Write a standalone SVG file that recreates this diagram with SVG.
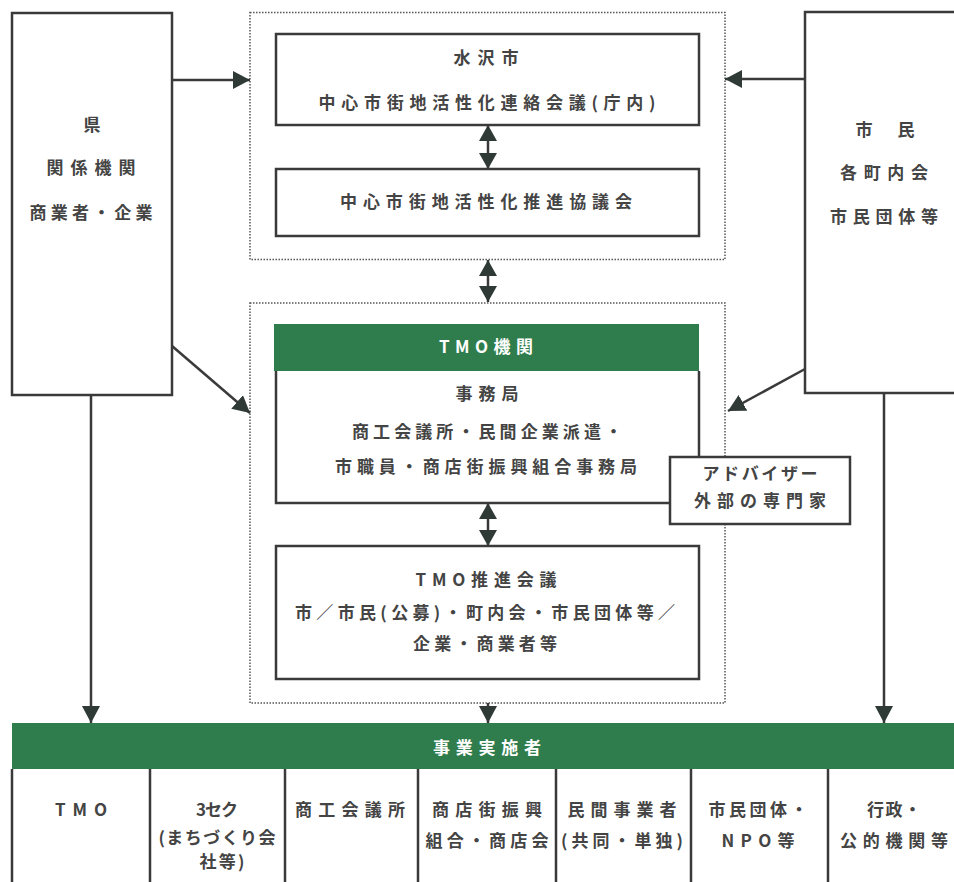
<svg xmlns="http://www.w3.org/2000/svg" width="954" height="882" viewBox="0 0 954 882">
<style>
.box{fill:#fff;stroke:#3a3a3a;stroke-width:2.5}
.dot{fill:none;stroke:#555;stroke-width:1.5;stroke-dasharray:1.5,1.5}
.t{font-family:"Noto Sans CJK JP","Noto Sans",sans-serif;font-size:17px;font-weight:bold;fill:#444;text-anchor:middle}
.w{fill:#fff}
.green{fill:#2f7d4d}
.ln{stroke:#3a3a3a;stroke-width:2.5;fill:none}
</style>
<defs>
<marker id="ah" markerUnits="userSpaceOnUse" markerWidth="18" markerHeight="18" refX="17" refY="9" orient="auto">
<path d="M0,0 L17,9 L0,18 z" fill="#2f3a36"/>
</marker>
<marker id="dh" markerUnits="userSpaceOnUse" markerWidth="18" markerHeight="18" refX="16" refY="9" orient="auto-start-reverse">
<path d="M0,0 L16,9 L0,18 z" fill="#2f3a36"/>
</marker>
</defs>

<g id="ken">
<rect class="box" x="12" y="13" width="160" height="382"/>
<text class="t" x="92" y="131">県</text>
<text class="t" x="91" y="174" textLength="89" lengthAdjust="spacing">関係機関</text>
<text class="t" x="91" y="219" textLength="123" lengthAdjust="spacing">商業者・企業</text>
</g>

<g id="shimin">
<rect class="box" x="805" y="12" width="160" height="381"/>
<text class="t" x="885" y="136" textLength="59" lengthAdjust="spacing">市 民</text>
<text class="t" x="884" y="179" textLength="88" lengthAdjust="spacing">各町内会</text>
<text class="t" x="884" y="223" textLength="108" lengthAdjust="spacing">市民団体等</text>
</g>

<g id="city-group">
<rect class="dot" x="250" y="12.5" width="475" height="247"/>
</g>

<g id="renraku">
<rect class="box" x="276" y="34" width="423" height="91"/>
<text class="t" x="486" y="64" textLength="65" lengthAdjust="spacing">水沢市</text>
<text class="t" x="487" y="109" textLength="337" lengthAdjust="spacing">中心市街地活性化連絡会議(庁内)</text>
</g>

<g id="kyogikai">
<rect class="box" x="276" y="169" width="423" height="67"/>
<text class="t" x="486" y="208" textLength="292" lengthAdjust="spacing">中心市街地活性化推進協議会</text>
</g>

<g id="tmo-group">
<rect class="dot" x="250" y="303" width="475" height="400"/>
</g>

<g id="tmo-kikan">
<rect class="green" x="274" y="324" width="425" height="47"/>
<text class="t w" x="486" y="353" textLength="94" lengthAdjust="spacing">TMO機関</text>
<path class="ln" d="M276,371 V503 H699 V371"/>
<text class="t" x="487" y="400" textLength="63" lengthAdjust="spacing">事務局</text>
<text class="t" x="487" y="438" textLength="270" lengthAdjust="spacing">商工会議所・民間企業派遣・</text>
<text class="t" x="486" y="473" textLength="302" lengthAdjust="spacing">市職員・商店街振興組合事務局</text>
</g>

<g id="advisor">
<rect class="box" x="670" y="457" width="180" height="67"/>
<text class="t" x="760" y="480" textLength="115" lengthAdjust="spacing">アドバイザー</text>
<text class="t" x="760" y="507" textLength="132" lengthAdjust="spacing">外部の専門家</text>
</g>

<g id="suishin">
<rect class="box" x="276" y="546" width="423" height="133"/>
<text class="t" x="486" y="586" textLength="141" lengthAdjust="spacing">TMO推進会議</text>
<text class="t" x="485" y="619" textLength="380" lengthAdjust="spacing">市／市民(公募)・町内会・市民団体等／</text>
<text class="t" x="485" y="650" textLength="144" lengthAdjust="spacing">企業・商業者等</text>
</g>

<g id="jigyo">
<rect class="green" x="12" y="723" width="942" height="46"/>
<text class="t w" x="487" y="754" textLength="108" lengthAdjust="spacing">事業実施者</text>
<path class="ln" d="M12,769 V882 M150,769 V882 M285,769 V882 M418,769 V882 M556,769 V882 M691,769 V882 M828,769 V882"/>
<text class="t" x="81" y="816" textLength="52" lengthAdjust="spacing">TMO</text>
<text class="t" x="217" y="816" textLength="42" lengthAdjust="spacing">3セク</text>
<text class="t" x="217" y="844" textLength="117" lengthAdjust="spacing">(まちづくり会</text>
<text class="t" x="222" y="868" textLength="45" lengthAdjust="spacing">社等)</text>
<text class="t" x="350" y="816" textLength="110" lengthAdjust="spacing">商工会議所</text>
<text class="t" x="487" y="816" textLength="110" lengthAdjust="spacing">商店街振興</text>
<text class="t" x="487" y="847" textLength="123" lengthAdjust="spacing">組合・商店会</text>
<text class="t" x="622" y="816" textLength="109" lengthAdjust="spacing">民間事業者</text>
<text class="t" x="622" y="847" textLength="122" lengthAdjust="spacing">(共同・単独)</text>
<text class="t" x="758" y="816" textLength="99" lengthAdjust="spacing">市民団体・</text>
<text class="t" x="758" y="847" textLength="73" lengthAdjust="spacing">NPO等</text>
<text class="t" x="894" y="816" textLength="54" lengthAdjust="spacing">行政・</text>
<text class="t" x="894" y="847" textLength="108" lengthAdjust="spacing">公的機関等</text>
</g>

<g id="connectors">
<line class="ln" x1="172" y1="80" x2="250" y2="80" marker-end="url(#ah)"/>
<line class="ln" x1="805" y1="79" x2="725" y2="79" marker-end="url(#ah)"/>
<line class="ln" x1="488" y1="125" x2="488" y2="169" marker-start="url(#dh)" marker-end="url(#dh)"/>
<line class="ln" x1="488" y1="260" x2="488" y2="302" marker-start="url(#dh)" marker-end="url(#dh)"/>
<line class="ln" x1="488" y1="503" x2="488" y2="546" marker-start="url(#dh)" marker-end="url(#dh)"/>
<line class="ln" x1="172" y1="346" x2="250" y2="413" marker-end="url(#ah)"/>
<line class="ln" x1="805" y1="369" x2="728" y2="411" marker-end="url(#ah)"/>
<line class="ln" x1="91" y1="395" x2="91" y2="723" marker-end="url(#ah)"/>
<line class="ln" x1="488" y1="703" x2="488" y2="723" marker-end="url(#ah)"/>
<line class="ln" x1="884" y1="393" x2="884" y2="723" marker-end="url(#ah)"/>
</g>
</svg>
